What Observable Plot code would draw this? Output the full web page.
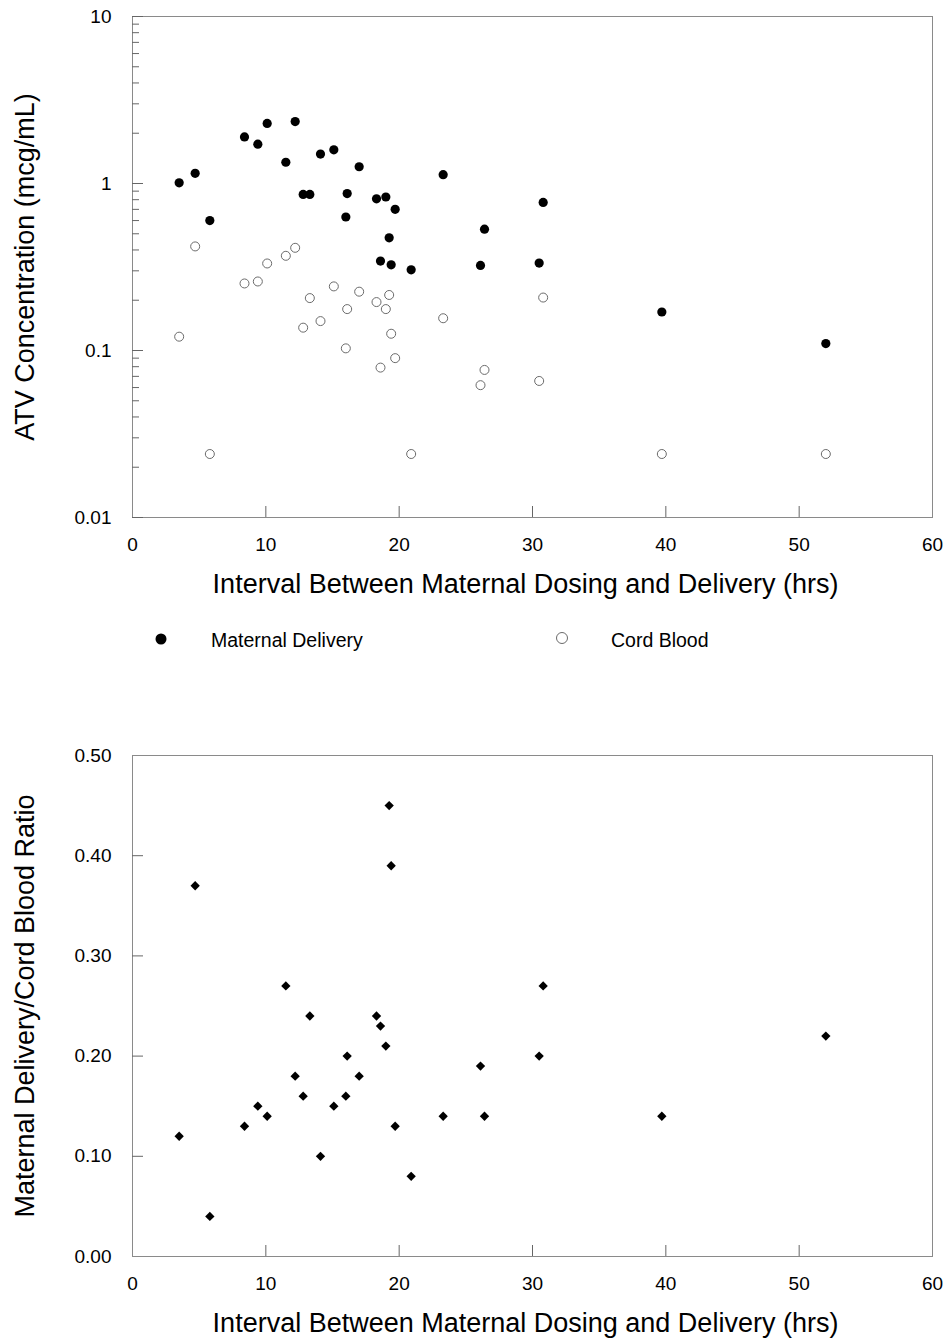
<!DOCTYPE html>
<html>
<head>
<meta charset="utf-8">
<script src="https://cdn.jsdelivr.net/npm/d3@7"></script>
<script src="https://cdn.jsdelivr.net/npm/@observablehq/plot@0.6"></script>
<style>
  html, body { margin: 0; padding: 0; background: #fff; }
  body { width: 950px; height: 1338px; position: relative; overflow: hidden;
         font-family: "Liberation Sans", Arial, Helvetica, sans-serif; }
  #top { position: absolute; left: 0; top: 0; }
  #legend { position: absolute; left: 0; top: 620px; width: 950px; height: 40px; }
  #bottom { position: absolute; left: 0; top: 730px; }
</style>
</head>
<body>
<div id="top"></div>
<div id="legend"></div>
<div id="bottom"></div>
<script>
// ---- data ----
const hours    = [3.5, 4.7, 5.8, 8.4, 9.4, 10.1, 11.5, 12.2, 12.8, 13.3, 14.1, 15.1, 16.0, 16.1, 17.0, 18.3, 18.6, 19.0, 19.25, 19.4, 19.7, 20.9, 23.3, 26.1, 26.4, 30.5, 30.8, 39.7, 52.0];
const maternal = [1.01, 1.15, 0.60, 1.90, 1.72, 2.29, 1.34, 2.35, 0.86, 0.86, 1.50, 1.59, 0.63, 0.87, 1.26, 0.81, 0.343, 0.83, 0.473, 0.326, 0.70, 0.304, 1.13, 0.323, 0.533, 0.334, 0.77, 0.170, 0.110];
const cord     = [0.121, 0.42, 0.024, 0.252, 0.259, 0.332, 0.369, 0.412, 0.137, 0.206, 0.150, 0.242, 0.103, 0.177, 0.225, 0.195, 0.079, 0.177, 0.215, 0.126, 0.090, 0.024, 0.156, 0.062, 0.0765, 0.0657, 0.2075, 0.024, 0.024];
const ratio    = [0.12, 0.37, 0.04, 0.13, 0.15, 0.14, 0.27, 0.18, 0.16, 0.24, 0.10, 0.15, 0.16, 0.20, 0.18, 0.24, 0.23, 0.21, 0.45, 0.39, 0.13, 0.08, 0.14, 0.19, 0.14, 0.20, 0.27, 0.14, 0.22];

const xTickLabels   = [0, 10, 20, 30, 40, 50, 60];
const xInnerTicks   = [10, 20, 30, 40, 50];
const logMajorTicks = [0.01, 0.1, 1, 10];
const logMinorTicks = [0.02,0.03,0.04,0.05,0.06,0.07,0.08,0.09, 0.2,0.3,0.4,0.5,0.6,0.7,0.8,0.9, 2,3,4,5,6,7,8,9];
const ratioTickLabels = [0, 0.1, 0.2, 0.3, 0.4, 0.5];
const ratioInnerTicks = [0.1, 0.2, 0.3, 0.4];

const xTitle = "Interval Between Maternal Dosing and Delivery (hrs)";
const yTitleTop = "ATV Concentration (mcg/mL)";
const yTitleBottom = "Maternal Delivery/Cord Blood Ratio";
const legendLabels = ["Maternal Delivery", "Cord Blood"];

const rows = hours.map((h, i) => ({h, m: maternal[i], c: cord[i], r: ratio[i]}));

const fam = '"Liberation Sans", Arial, Helvetica, sans-serif';
const frameColor = "#8a8a8a";
const tickColor = "#666";
const titleSize = 27;

function commonX() {
  return [
    Plot.axisX(xInnerTicks, {tickSize: 11, dy: -11, fill: "none", stroke: tickColor, label: null}),
    Plot.axisX(xTickLabels, {tickSize: 0, tickPadding: 20, stroke: "none", fill: "black", tickFormat: d => String(d), label: null}),
    Plot.text([xTitle], {text: d => d, frameAnchor: "bottom", lineAnchor: "bottom", textAnchor: "middle", dy: 75, dx: -7, fontSize: titleSize, fill: "black"})
  ];
}

function yTitle(t) {
  return Plot.text([t], {text: d => d, frameAnchor: "left", lineAnchor: "bottom", textAnchor: "middle", rotate: -90, dx: -99, fontSize: titleSize, fill: "black"});
}

const topPlot = Plot.plot({
  width: 950, height: 610,
  marginLeft: 132, marginRight: 18, marginTop: 16, marginBottom: 93,
  style: {fontFamily: fam, fontSize: "19px", color: "black", background: "white", overflow: "visible"},
  x: {domain: [0, 60], label: null},
  y: {type: "log", domain: [0.01, 10], label: null},
  marks: [
    Plot.frame({stroke: frameColor}),
    ...commonX(),
    Plot.axisY(logMinorTicks, {tickSize: 7, dx: 7, fill: "none", stroke: tickColor, label: null}),
    Plot.axisY(logMajorTicks, {tickSize: 11, dx: 11, fill: "none", stroke: tickColor, label: null}),
    Plot.axisY(logMajorTicks, {tickSize: 0, tickPadding: 21, stroke: "none", fill: "black", tickFormat: d => String(d), label: null}),
    yTitle(yTitleTop),
    Plot.dot(rows, {x: "h", y: "c", r: 4.5, stroke: "#6b6b6b", strokeWidth: 1, fill: "white"}),
    Plot.dot(rows, {x: "h", y: "m", r: 4.6, fill: "black", stroke: "none"})
  ]
});
document.getElementById("top").appendChild(topPlot);

const bottomPlot = Plot.plot({
  width: 950, height: 608,
  marginLeft: 132, marginRight: 18, marginTop: 25, marginBottom: 82,
  style: {fontFamily: fam, fontSize: "19px", color: "black", background: "white", overflow: "visible"},
  x: {domain: [0, 60], label: null},
  y: {domain: [0, 0.5], label: null},
  marks: [
    Plot.frame({stroke: frameColor}),
    ...commonX(),
    Plot.axisY(ratioInnerTicks, {tickSize: 11, dx: 11, fill: "none", stroke: tickColor, label: null}),
    Plot.axisY(ratioTickLabels, {tickSize: 0, tickPadding: 21, stroke: "none", fill: "black", tickFormat: d3.format(".2f"), label: null}),
    yTitle(yTitleBottom),
    Plot.dot(rows, {x: "h", y: "r", symbol: "diamond2", r: 4.2, fill: "black", stroke: "none"})
  ]
});
document.getElementById("bottom").appendChild(bottomPlot);

// ---- legend (below the top chart) ----
const lg = d3.select("#legend").append("svg")
  .attr("width", 950).attr("height", 40)
  .style("font-family", fam);
lg.append("circle").attr("cx", 161).attr("cy", 19).attr("r", 5.5).attr("fill", "black");
lg.append("text").attr("x", 211).attr("y", 27).attr("font-size", 19.5).attr("fill", "black").text(legendLabels[0]);
lg.append("circle").attr("cx", 562).attr("cy", 18).attr("r", 5.5).attr("fill", "white").attr("stroke", "#6b6b6b").attr("stroke-width", 1);
lg.append("text").attr("x", 611).attr("y", 27).attr("font-size", 19.5).attr("fill", "black").text(legendLabels[1]);
</script>
</body>
</html>
